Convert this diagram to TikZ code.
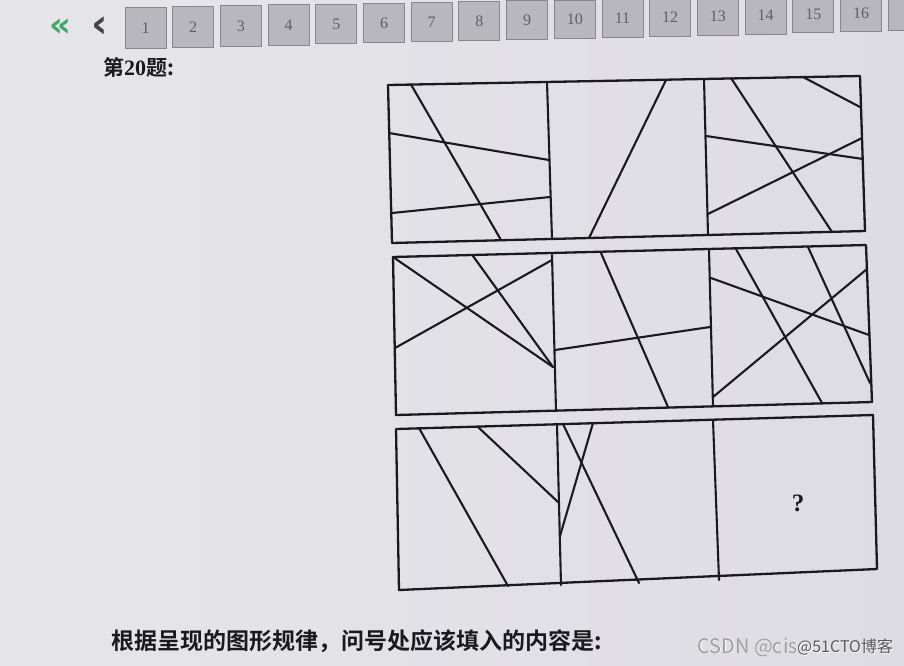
\documentclass[tikz,border=0pt]{standalone}
\usepackage{fontspec}
\setmainfont{Liberation Serif}
\newfontfamily\cjkb{Noto Sans CJK SC Bold}
\newfontfamily\cjk{Noto Sans CJK SC}
\newfontfamily\symf{DejaVu Sans}
\definecolor{bgL}{HTML}{E6E6EA}
\definecolor{bgR}{HTML}{DEDCE3}
\definecolor{navfill}{HTML}{B7B7BD}
\definecolor{navdraw}{HTML}{86868C}
\definecolor{navtxt}{HTML}{5E5E66}
\definecolor{ink}{HTML}{1A1A1E}
\definecolor{qgreen}{HTML}{3DAA6A}
\tikzset{
  frame/.style={draw=ink, line width=2.3pt, line join=round},
  ln/.style={draw=ink, line width=2.1pt, line cap=round},
  navbox/.style={fill=navfill, draw=navdraw, line width=1pt},
  navnum/.style={text=navtxt, font=\fontsize{16}{16}\selectfont},
  wm/.style={anchor=west, inner sep=0pt},
}
\begin{document}
\begin{tikzpicture}[x=1pt,y=-1pt]
\useasboundingbox (0,0) rectangle (904,665);
\begin{scope}
\clip (0,0) rectangle (904,665);
\shade[left color=bgL, right color=bgR] (0,0) rectangle (904,665);
% navigation
\node[text=qgreen, font=\symf\bfseries\fontsize{34}{34}\selectfont] (dbl) at (60,28) {«};
\node[text=navtxt!70!black, font=\symf\bfseries\fontsize{40}{40}\selectfont] (sgl) at (100,27) {‹};
\foreach \i in {1,...,17} {
  \pgfmathsetmacro{\xl}{125+(\i-1)*47.7}
  \pgfmathsetmacro{\yt}{7.3-(\i-1)*0.8}
  \pgfmathsetmacro{\yb}{48.3-(\i-1)*1.1}
  \draw[navbox] (\xl,\yt) rectangle ({\xl+41},\yb);
}
\foreach \i in {1,...,16} {
  \pgfmathsetmacro{\xl}{125+(\i-1)*47.7}
  \pgfmathsetmacro{\yt}{7.3-(\i-1)*0.8}
  \pgfmathsetmacro{\yb}{48.3-(\i-1)*1.1}
  \node[navnum] (n\i) at ({\xl+20.5},{(\yt+\yb)/2}) {\i};
}
\end{scope}
\node[anchor=west, text=ink, font=\cjkb\fontsize{21}{21}\selectfont, inner sep=0pt] (title) at (103,67) {第{\rmfamily\bfseries\fontsize{22}{22}\selectfont 20}题:};

% ---------- row 1 ----------
\draw[frame] (388,85) -- (860,76) -- (865,231) -- (392,243) -- cycle;
\draw[ln] (547,82) -- (552,239);
\draw[ln] (704,79) -- (708,235);
\draw[ln] (411,84.5) -- (501,240);
\draw[ln] (389,133) -- (549,160);
\draw[ln] (392,213) -- (550,197);
\draw[ln] (666,80) -- (589,238);
\draw[ln] (731,78) -- (832,232);
\draw[ln] (803,77) -- (860,107);
\draw[ln] (706,136) -- (863,159);
\draw[ln] (708,214) -- (862,138);

% ---------- row 2 ----------
\draw[frame] (393,257) -- (866,245) -- (872,402) -- (396,415) -- cycle;
\draw[ln] (552,255) -- (556,411);
\draw[ln] (709,250) -- (713,406);
\draw[ln] (393,257) -- (553,367);
\draw[ln] (473,256) -- (553,367);
\draw[ln] (395,348) -- (552,260);
\draw[ln] (601,253) -- (668,407);
\draw[ln] (555,350) -- (710,327);
\draw[ln] (736,249) -- (822,403);
\draw[ln] (808,247) -- (870,383);
\draw[ln] (711,278) -- (869,335);
\draw[ln] (713,397) -- (867,269);

% ---------- row 3 ----------
\draw[frame] (396,429) -- (873,415) -- (877,569) -- (399,590) -- cycle;
\draw[ln] (557,424) -- (561,585);
\draw[ln] (713,420) -- (719,580);
\draw[ln] (419,428) -- (508,586);
\draw[ln] (478,427) -- (558,502);
\draw[ln] (560,536) -- (593,423);
\draw[ln] (563,424) -- (639,583);
\node[text=ink, font=\bfseries\fontsize{25}{25}\selectfont] (q) at (798,503) {?};

% bottom text
\node[anchor=west, text=ink, font=\cjkb\fontsize{23}{23}\selectfont, inner sep=0pt] (question) at (111,641) {根据呈现的图形规律，问号处应该填入的内容是:};
\node[wm, text=white, font=\cjk\fontsize{20}{20}\selectfont] (wm1s) at (697.8,647.8) {CSDN @cis};
\node[wm, text=gray!75, font=\cjk\fontsize{20}{20}\selectfont] (wm1) at (697,647) {CSDN @cis};
\node[wm, text=white, font=\cjk\fontsize{16}{16}\selectfont] (wm2s) at (797.8,647.8) {@51CTO博客};
\node[wm, text=gray!70!black, font=\cjk\fontsize{16}{16}\selectfont] (wm2) at (797,647) {@51CTO博客};
\end{tikzpicture}
\end{document}
